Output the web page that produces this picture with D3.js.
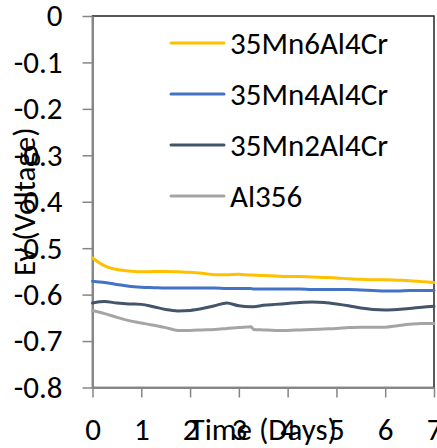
<!DOCTYPE html>
<html>
<head>
<meta charset="utf-8">
<script src="https://cdn.jsdelivr.net/npm/d3@7"></script>
<style>
  html, body { margin: 0; padding: 0; background: #fff; }
  svg { display: block; font-family: Carlito, Calibri, Lato, sans-serif; }
</style>
</head>
<body>
<svg id="chart"></svg>
<script>
"use strict";

// days sampled along each curve
var days = [0, 0.25, 0.5, 0.75, 1, 1.25, 1.5, 1.75, 2, 2.25, 2.5, 2.75, 3, 3.25, 3.3,
    3.5, 3.75, 4, 4.25, 4.5, 4.75, 5, 5.25, 5.5, 5.75, 6, 6.25, 6.5, 6.75, 7];

var seriesNames = ["35Mn6Al4Cr", "35Mn4Al4Cr", "35Mn2Al4Cr", "Al356"];
var seriesColors = ["#FFC000", "#4472C4", "#44546A", "#A5A5A5"];

var mn6 = [-0.521, -0.538, -0.546, -0.549, -0.551, -0.550, -0.550, -0.551, -0.552, -0.554,
    -0.557, -0.557, -0.556, -0.558, -0.558, -0.559, -0.560, -0.561, -0.561, -0.562,
    -0.563, -0.564, -0.566, -0.567, -0.568, -0.568, -0.569, -0.570, -0.572, -0.574];
var mn4 = [-0.571, -0.574, -0.578, -0.582, -0.584, -0.585, -0.586, -0.586, -0.586, -0.586,
    -0.586, -0.587, -0.587, -0.587, -0.588, -0.588, -0.588, -0.588, -0.588, -0.589,
    -0.589, -0.589, -0.589, -0.590, -0.591, -0.592, -0.592, -0.591, -0.591, -0.591];
var mn2 = [-0.618, -0.615, -0.618, -0.620, -0.621, -0.626, -0.632, -0.635, -0.634, -0.630,
    -0.624, -0.618, -0.624, -0.626, -0.626, -0.623, -0.621, -0.619, -0.617, -0.616,
    -0.617, -0.620, -0.624, -0.629, -0.632, -0.633, -0.632, -0.630, -0.627, -0.625];
var al356 = [-0.634, -0.641, -0.649, -0.656, -0.661, -0.666, -0.671, -0.677, -0.677, -0.676,
    -0.675, -0.673, -0.671, -0.669, -0.675, -0.676, -0.677, -0.677, -0.676, -0.675,
    -0.674, -0.673, -0.671, -0.670, -0.670, -0.670, -0.667, -0.664, -0.662, -0.662];

var xTicks = [0, 1, 2, 3, 4, 5, 6, 7];
var yTicks = [0, -0.1, -0.2, -0.3, -0.4, -0.5, -0.6, -0.7, -0.8];

var W = 437, H = 448;
var m = { left: 92.5, right: 3, top: 16, bottom: 60.5 };
var iWidth = W - m.left - m.right;
var iHeight = H - m.top - m.bottom;
var fontSize = 31;

var svg = d3.select("#chart").attr("width", W).attr("height", H);
var chart = svg.append("g").attr("transform", `translate(${m.left}, ${m.top})`);

var xScale = d3.scaleLinear().domain([0, 7]).range([0, iWidth]);
var yScale = d3.scaleLinear().domain([-0.8, 0]).range([iHeight, 0]);

// plot area border (top / right are dark)
chart.append("rect")
    .attr("width", iWidth).attr("height", iHeight)
    .attr("fill", "none").attr("stroke", "#222").attr("stroke-width", 1.5);

var axisColor = "#868686";

var gy = chart.append("g")
    .call(d3.axisLeft(yScale).tickValues(yTicks).tickSize(10).tickSizeOuter(0)
        .tickPadding(20).tickFormat(d => String(d)));
var gx = chart.append("g")
    .attr("transform", `translate(0, ${iHeight})`)
    .call(d3.axisBottom(xScale).tickValues(xTicks).tickSize(10).tickSizeOuter(0)
        .tickPadding(20).tickFormat(d => String(d)));

[gy, gx].forEach(function(g) {
    g.select(".domain").attr("stroke", axisColor).attr("stroke-width", 2);
    g.selectAll(".tick line").attr("stroke", axisColor).attr("stroke-width", 1.5);
    g.selectAll(".tick text").attr("fill", "#000").style("font-size", fontSize + "px")
        .style("font-family", "Carlito, Calibri, Lato, sans-serif");
});

// series
var allSeries = [mn6, mn4, mn2, al356];
var line = d3.line()
    .x((d, i) => xScale(days[i]))
    .y(d => yScale(d))
    .curve(d3.curveMonotoneX);

// draw bottom-most series first so the order matches
allSeries.slice().reverse().forEach(function(vals, k) {
    var idx = allSeries.length - 1 - k;
    chart.append("path")
        .datum(vals)
        .attr("fill", "none")
        .attr("stroke", seriesColors[idx])
        .attr("stroke-width", 3)
        .attr("stroke-linejoin", "round")
        .attr("stroke-linecap", "round")
        .attr("d", line);
});

// legend
var legend = chart.append("g").attr("transform", "translate(78.5, 27)");
seriesNames.forEach(function(name, i) {
    var row = legend.append("g").attr("transform", `translate(0, ${i * 51})`);
    row.append("line")
        .attr("x1", 0).attr("x2", 53)
        .attr("stroke", seriesColors[i]).attr("stroke-width", 3)
        .attr("stroke-linecap", "round");
    row.append("text")
        .attr("x", 59).attr("dy", "0.35em")
        .style("font-size", fontSize + "px")
        .text(name);
});

// axis titles
svg.append("text")
    .attr("x", m.left + iWidth / 2).attr("y", 440)
    .attr("text-anchor", "middle")
    .style("font-size", fontSize + "px")
    .text("Time (Days)");

svg.append("text")
    .attr("transform", `translate(35, ${m.top + iHeight / 2}) rotate(-90)`)
    .attr("text-anchor", "middle")
    .style("font-size", fontSize + "px")
    .text("Ev (Voltage)");
</script>
</body>
</html>
